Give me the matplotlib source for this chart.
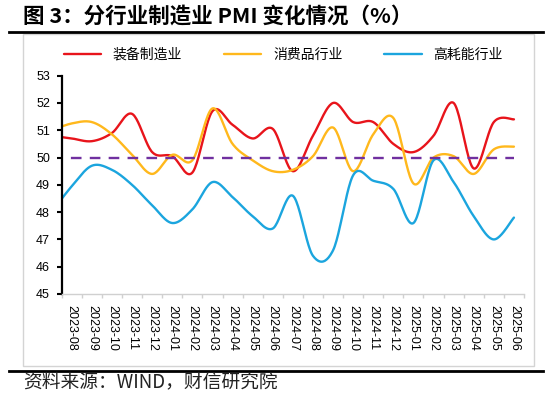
import numpy as np
import matplotlib
matplotlib.use("Agg")
from matplotlib import pyplot as plt
from matplotlib.lines import Line2D
from matplotlib.patches import Rectangle

plt.rcParams['font.family'] = ['Noto Sans CJK SC', 'DejaVu Sans']

# data (first month sits just left of the axis and is clipped)
months = ["2023-07", "2023-08", "2023-09", "2023-10", "2023-11", "2023-12",
          "2024-01", "2024-02", "2024-03", "2024-04", "2024-05", "2024-06",
          "2024-07", "2024-08", "2024-09", "2024-10", "2024-11", "2024-12",
          "2025-01", "2025-02", "2025-03", "2025-04", "2025-05", "2025-06"]
equip = [50.8, 50.7, 50.6, 50.9, 51.6, 50.2, 50.05, 49.45, 51.7, 51.2, 50.7, 51.05,
         49.5, 50.8, 52.0, 51.3, 51.3, 50.5, 50.2, 50.8, 52.0, 49.6, 51.3, 51.4]
consumer = [51.0, 51.25, 51.3, 50.85, 50.1, 49.4, 50.1, 49.9, 51.8, 50.5, 49.9, 49.5,
            49.55, 50.05, 51.1, 49.5, 50.85, 51.45, 49.05, 50.0, 50.05, 49.4, 50.3, 50.4]
energy = [48.0, 48.95, 49.7, 49.55, 49.0, 48.25, 47.6, 48.1, 49.1, 48.55, 47.85, 47.4,
          48.6, 46.4, 46.6, 49.35, 49.15, 48.85, 47.6, 49.9, 49.1, 47.85, 47.0, 47.8]
series_names = ["装备制造业", "消费品行业", "高耗能行业"]
series_colors = ["#E8141B", "#FFB81C", "#1BA5DE"]
baseline = 50


def smooth(xs, ys, n=24):
    # excel-like smoothed line: bezier through the points (catmull-rom tangents)
    xs = np.asarray(xs, float)
    ys = np.asarray(ys, float)
    px = np.concatenate([[xs[0]], xs, [xs[-1]]])
    py = np.concatenate([[ys[0]], ys, [ys[-1]]])
    out_x, out_y = [], []
    t = np.linspace(0, 1, n)
    for i in range(1, len(px) - 2):
        p0 = np.array([px[i], py[i]])
        p3 = np.array([px[i + 1], py[i + 1]])
        c1 = p0 + (p3 - np.array([px[i - 1], py[i - 1]])) / 6
        c2 = p3 - (np.array([px[i + 2], py[i + 2]]) - p0) / 6
        b = ((1 - t) ** 3)[:, None] * p0 + (3 * (1 - t) ** 2 * t)[:, None] * c1 \
            + (3 * (1 - t) * t ** 2)[:, None] * c2 + (t ** 3)[:, None] * p3
        out_x.extend(b[:, 0])
        out_y.extend(b[:, 1])
    return np.array(out_x), np.array(out_y)


fig = plt.figure(figsize=(5.5, 3.95), dpi=100)

# frame and rules
fig.patches.append(Rectangle((0.0418, 0.0734), 0.929, 0.8405, transform=fig.transFigure,
                             fill=False, edgecolor="#d4d4d4", linewidth=1.0))
fig.lines.append(Line2D([0.016, 0.987], [0.919, 0.919], transform=fig.transFigure,
                        color="black", linewidth=2.0))
fig.lines.append(Line2D([0.016, 0.987], [0.0608, 0.0608], transform=fig.transFigure,
                        color="black", linewidth=2.0))

fig.text(0.042, 0.9595, "图 3：分行业制造业 PMI 变化情况（%）", fontsize=15.5,
         fontweight="bold", va="center", ha="left")
fig.text(0.042, 0.033, "资料来源：WIND，财信研究院", fontsize=13.5, style="italic",
         va="center", ha="left", color="#222222")

ax = fig.add_axes([0.1122, 0.2557, 0.8405, 0.5527])
x = np.arange(len(months))

handles = []
for vals, name, col in zip([equip, consumer, energy], series_names, series_colors):
    sx, sy = smooth(x, vals)
    h, = ax.plot(sx, sy, color=col, linewidth=1.7, label=name, solid_capstyle="round")
    handles.append(h)

ax.plot([x[0], x[-1]], [baseline, baseline], color="#7030A0", linewidth=1.7,
        dashes=(4.5, 3.5))

ax.set_xlim(0.5, len(months) - 0.5)
ax.set_ylim(45, 53)
ax.set_yticks(range(45, 54))
ax.set_xticks(x[1:])
ax.set_xticklabels(months[1:], rotation=-90, fontsize=9, family="Liberation Sans")
ax.set_xticks(np.arange(0.5, len(months), 1), minor=True)
ax.tick_params(axis="x", which="major", length=0, pad=8)
ax.tick_params(axis="x", which="minor", length=3, width=1, color="#d0d0d0", direction="out")
ax.tick_params(axis="y", length=3.5, width=1.5, direction="out", pad=5, labelsize=9)
for lab in ax.get_yticklabels():
    lab.set_family("Liberation Sans")

ax.spines["top"].set_visible(False)
ax.spines["right"].set_visible(False)
ax.spines["left"].set_linewidth(1.6)
ax.spines["left"].set_color("black")
ax.spines["bottom"].set_color("#d0d0d0")
ax.spines["bottom"].set_linewidth(1.0)

fig.legend(handles=handles, loc="center", bbox_to_anchor=(0.515, 0.861), ncol=3,
           frameon=False, fontsize=10, handlelength=2.7, handletextpad=0.85,
           columnspacing=3.0)

fig.savefig("out.png", dpi=100)
